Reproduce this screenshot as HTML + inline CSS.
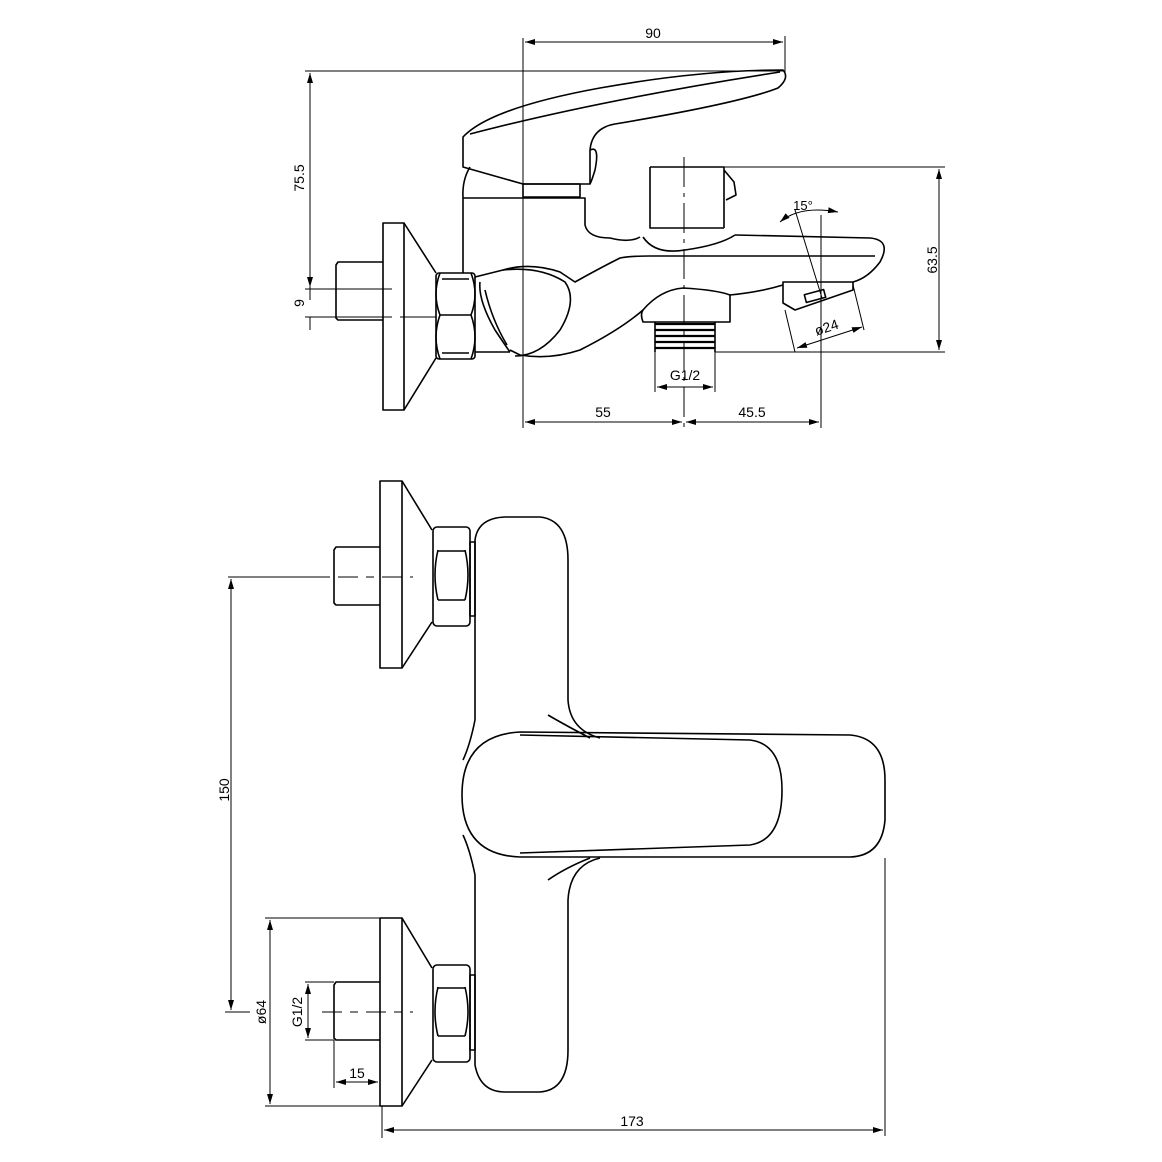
<!DOCTYPE html>
<html><head><meta charset="utf-8"><style>
html,body{margin:0;padding:0;background:#fff}
svg{display:block}
text{font-family:"Liberation Sans",sans-serif;font-size:14px;fill:#000}
</style></head><body>
<svg width="1162" height="1162" viewBox="0 0 1162 1162" xmlns="http://www.w3.org/2000/svg">
<defs>
<marker id="a" viewBox="0 0 10 6" refX="10" refY="3" markerWidth="10" markerHeight="6" orient="auto-start-reverse" markerUnits="userSpaceOnUse"><path d="M0,0L10,3L0,6z" fill="#000"/></marker>
</defs>
<g fill="none" stroke="#000" stroke-width="1">
<!-- ===== TOP VIEW dims ===== -->
<line x1="523" y1="38" x2="523" y2="428"/>
<line x1="785" y1="36" x2="785" y2="72"/>
<line x1="525" y1="42" x2="783" y2="42" marker-start="url(#a)" marker-end="url(#a)"/>
<line x1="305" y1="71" x2="785" y2="71"/>
<line x1="310" y1="73" x2="310" y2="287" marker-start="url(#a)" marker-end="url(#a)"/>
<line x1="305" y1="289" x2="392" y2="289"/>
<line x1="305" y1="317" x2="392" y2="317"/>
<line x1="400" y1="317" x2="436" y2="317"/>
<line x1="310" y1="287" x2="310" y2="300"/>
<line x1="310" y1="317" x2="310" y2="330"/>
<!-- 63.5 -->
<line x1="720" y1="167" x2="945" y2="167"/>
<line x1="715" y1="352" x2="945" y2="352"/>
<line x1="939" y1="169" x2="939" y2="350" marker-start="url(#a)" marker-end="url(#a)"/>
<!-- G1/2 -->
<line x1="655" y1="352" x2="655" y2="392"/>
<line x1="715" y1="352" x2="715" y2="392"/>
<line x1="657" y1="387" x2="713" y2="387" marker-start="url(#a)" marker-end="url(#a)"/>
<!-- 55 / 45.5 -->
<line x1="525" y1="422" x2="682" y2="422" marker-start="url(#a)" marker-end="url(#a)"/>
<line x1="686" y1="422" x2="819" y2="422" marker-start="url(#a)" marker-end="url(#a)"/>
<line x1="821" y1="215" x2="821" y2="428"/>
<line x1="684" y1="157" x2="684" y2="428" stroke-dasharray="30,6,4,6"/>
<!-- 15 deg -->
<line x1="795" y1="210" x2="822" y2="298"/>
<path d="M780,222 Q800,205 838,212" marker-start="url(#a)" marker-end="url(#a)"/>
<!-- phi24 -->
<line x1="785" y1="310" x2="795" y2="352"/>
<line x1="853" y1="285" x2="864" y2="330"/>
<line x1="797" y1="348" x2="862" y2="327" marker-start="url(#a)" marker-end="url(#a)"/>
</g>
<g fill="none" stroke="#000" stroke-width="1.6" stroke-linejoin="round">
<!-- flange -->
<rect x="383" y="223" width="21" height="187"/>
<path d="M404,223 L436,273 M404,410 L436,358"/>
<!-- stub -->
<path d="M383,262 L338,262 L336,265 L336,318 L338,320 L383,320"/>
<!-- nut -->
<rect x="436" y="273" width="39" height="86" rx="3"/>
<path d="M440,273 Q432,294 440,315 M471,273 Q479,294 471,315 M440,315 Q432,337 440,359 M471,315 Q479,337 471,359 M440,315 L471,315 M442,279 L469,279 M442,353 L469,353"/>
<!-- body vertical & block -->
<path d="M463,198 L463,273 M463,198 L585,198 L585,225 Q588,238 610,238 Q630,243 640,237"/>
<path d="M470,167 Q462,180 463,198"/>
<rect x="523" y="184" width="57" height="13"/>
<!-- handle -->
<path d="M463,137 L463,167 L523,184 L590,184 L590,150 Q592,128 615,124 Q740,103 778,88 Q790,78 783,70 Q700,70 600,88 Q490,108 463,137 Z"/>
<path d="M470,134 Q600,100 780,72"/>
<path d="M590,150 Q600,145 595,170 Q592,180 590,184"/>
<!-- knob -->
<path d="M650,167 L724,167 L724,228 M650,167 L650,228 L724,228 M643,237 Q655,255 685,250 Q720,245 735,235 M724,170 L734,182 L736,195 L726,200"/>
<!-- spout -->
<path d="M735,235 L870,238 Q892,240 880,262 Q868,278 853,282"/>
<path d="M503,270 Q530,262 560,272 L575,282 Q600,268 620,258 Q630,256 650,256 L875,256"/>
<path d="M783,282 L853,282 L853,290 L795,310 L783,303 Z"/>
<rect x="805" y="292" width="20" height="8" transform="rotate(-15 815 296)"/>
<path d="M783,285 Q760,292 730,295 Q717,290 683,288 Q660,290 643,310 Q620,330 580,350 Q550,360 520,355 L510,350"/>
<path d="M730,295 L730,322 L643,322 Q640,314 643,310"/>
<path d="M475,277 L503,270 Q540,266 565,282 Q578,300 560,330 Q540,356 515,356 M475,352 L510,352 M480,282 Q478,300 495,330 Q505,345 510,352"/>
<path d="M485,290 Q492,320 507,345"/>
</g>
<!-- thread -->
<g stroke="#000" stroke-width="2.2">
<path d="M655,324 L715,324 M655,330 L715,330 M655,336 L715,336 M655,342 L715,342 M655,348 L715,348"/>
<path d="M655,322 L655,352 M715,322 L715,352" stroke-width="1.6"/>
</g>
<!-- ===== BOTTOM VIEW ===== -->
<g fill="none" stroke="#000" stroke-width="1">
<line x1="228" y1="577" x2="330" y2="577"/>
<line x1="338" y1="577" x2="413" y2="577" stroke-dasharray="20,8,8,8"/>
<line x1="231" y1="579" x2="231" y2="1010" marker-start="url(#a)" marker-end="url(#a)"/>
<line x1="225" y1="1012" x2="250" y2="1012"/>
<line x1="322" y1="1012" x2="413" y2="1012" stroke-dasharray="20,8,8,8"/>
<line x1="265" y1="918" x2="380" y2="918"/>
<line x1="265" y1="1106" x2="380" y2="1106"/>
<line x1="270" y1="920" x2="270" y2="1104" marker-start="url(#a)" marker-end="url(#a)"/>
<line x1="305" y1="982" x2="334" y2="982"/>
<line x1="305" y1="1040" x2="334" y2="1040"/>
<line x1="308" y1="984" x2="308" y2="1038" marker-start="url(#a)" marker-end="url(#a)"/>
<line x1="334" y1="1040" x2="334" y2="1088"/>
<line x1="336" y1="1082" x2="378" y2="1082" marker-start="url(#a)" marker-end="url(#a)"/>
<line x1="382" y1="1106" x2="382" y2="1138"/>
<line x1="885" y1="858" x2="885" y2="1136"/>
<line x1="384" y1="1130" x2="883" y2="1130" marker-start="url(#a)" marker-end="url(#a)"/>
</g>
<g fill="none" stroke="#000" stroke-width="1.6" stroke-linejoin="round">
<!-- top flange/nut/stub -->
<rect x="380" y="481" width="22" height="187"/>
<path d="M402,481 L432,530 M402,668 L432,622"/>
<path d="M380,547 L336,547 L334,550 L334,603 L336,605 L380,605"/>
<rect x="433" y="527" width="37" height="99" rx="4"/>
<path d="M438,551 L465,551 M438,600 L465,600 M438,550 Q432,575 438,600 M465,550 Q471,575 465,600"/>
<rect x="470" y="542" width="5" height="74"/>
<!-- bottom flange/nut/stub -->
<rect x="380" y="918" width="22" height="188"/>
<path d="M402,918 L432,968 M402,1106 L432,1060"/>
<path d="M380,982 L336,982 L334,985 L334,1038 L336,1040 L380,1040"/>
<rect x="433" y="965" width="37" height="97" rx="4"/>
<path d="M438,988 L465,988 M438,1036 L465,1036 M438,987 Q432,1012 438,1036 M465,987 Q471,1012 465,1036"/>
<rect x="470" y="975" width="5" height="75"/>
<!-- body -->
<path d="M475,540 Q478,518 505,517 L540,517 Q568,520 568,560 L568,700 Q570,730 600,738"/>
<path d="M475,540 L475,720 Q470,745 463,760"/>
<path d="M463,835 Q470,850 475,875 L475,1065 Q480,1092 505,1092 L540,1092 Q568,1090 568,1050 L568,900 Q570,865 600,858"/>
<!-- lever outer -->
<path d="M520,732 L850,735 Q885,738 885,780 L885,820 Q882,856 850,857 L520,857 Q462,855 462,795 Q462,735 520,732 Z"/>
<!-- lever inner -->
<path d="M520,735 Q600,737 750,740 Q782,744 782,790 Q782,840 750,845 L520,853"/>
<path d="M548,715 Q565,725 590,738 M548,880 Q565,868 590,858"/>
</g>
<!-- ===== TEXT ===== -->
<text x="653" y="38" text-anchor="middle">90</text>
<text transform="translate(304,178) rotate(-90)" text-anchor="middle">75.5</text>
<text transform="translate(304,303) rotate(-90)" text-anchor="middle">9</text>
<text transform="translate(937,260) rotate(-90)" text-anchor="middle">63.5</text>
<text x="685" y="380" text-anchor="middle">G1/2</text>
<text x="603" y="417" text-anchor="middle">55</text>
<text x="752" y="417" text-anchor="middle">45.5</text>
<text x="803" y="210" text-anchor="middle" style="font-size:13px">15°</text>
<text transform="translate(828,332) rotate(-18)" text-anchor="middle">ø24</text>
<text transform="translate(229,790) rotate(-90)" text-anchor="middle">150</text>
<text transform="translate(266,1012) rotate(-90)" text-anchor="middle">ø64</text>
<text transform="translate(302,1012) rotate(-90)" text-anchor="middle">G1/2</text>
<text x="357" y="1078" text-anchor="middle">15</text>
<text x="632" y="1126" text-anchor="middle">173</text>
</svg>
</body></html>
